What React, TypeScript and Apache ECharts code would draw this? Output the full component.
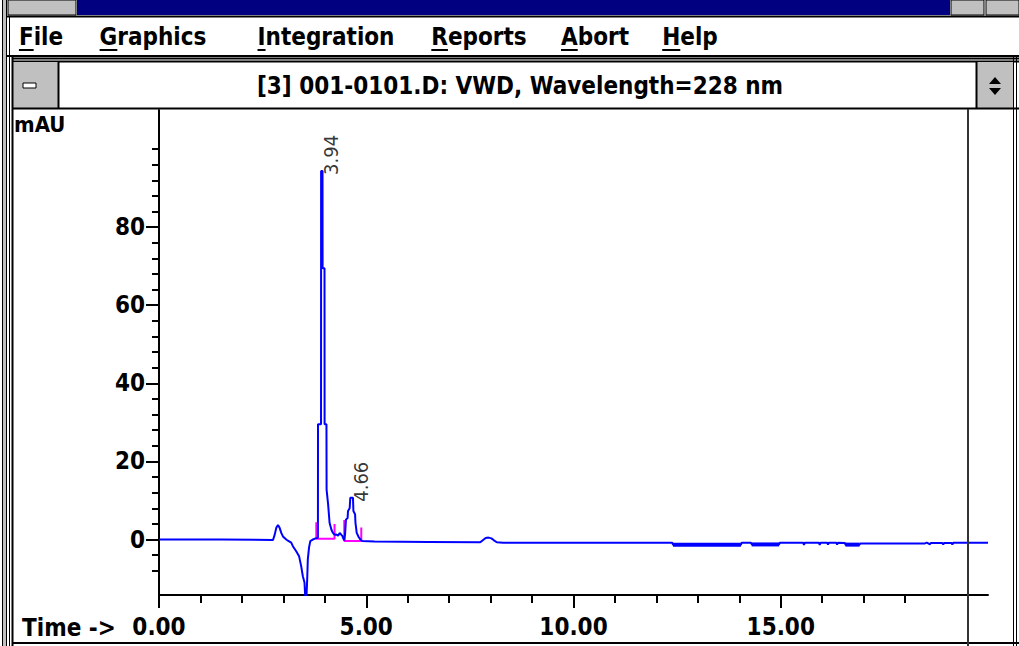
import React, { useEffect, useRef } from "react";
import * as echarts from "echarts";

// ---------------- data (time in min, signal in mAU) ----------------
const leadBaseline: number[][] = [[0, 0], [1.5, 0], [2.75, -0.1]];
const solventBump: number[][] = [
  [2.79, 1.2], [2.83, 3.0], [2.87, 3.7], [2.91, 3.0], [2.95, 1.7], [2.99, 0.8],
  [3.07, 0], [3.11, -0.3], [3.19, -0.8],
];
const negativeDip: number[][] = [
  [3.23, -1.7], [3.31, -3.0], [3.38, -4.3], [3.43, -6.8], [3.47, -9.4], [3.51, -11],
  [3.54, -17], [3.56, -14], [3.575, -10.3], [3.59, -5.1], [3.62, -2], [3.65, -0.4],
  [3.71, 0], [3.78, 0.3],
];
const peak394: number[][] = [
  [3.834, 0.5], [3.836, 29.5], [3.909, 29.5], [3.911, 94.4], [3.945, 94.4],
  [3.947, 69.5], [3.993, 69.5], [3.995, 29.5], [4.04, 29.5], [4.043, 12.8],
  [4.08, 9], [4.115, 4.3], [4.16, 2.5], [4.195, 1.7], [4.24, 1.2], [4.28, 1.3],
  [4.32, 1.0], [4.36, 1.7], [4.4, 1.2], [4.42, 1.0], [4.45, 0.2], [4.47, -0.2],
];
const peak466: number[][] = [
  [4.49, 1.5], [4.51, 5.1], [4.55, 5.5], [4.56, 7.3], [4.6, 8.0], [4.615, 10.7],
  [4.68, 10.7], [4.69, 7.3], [4.73, 6.5], [4.74, 4.3], [4.77, 1.7], [4.82, 0.6],
  [4.86, 0], [4.9, -0.4],
];
const midBaseline: number[][] = [
  [5.2, -0.5], [6.5, -0.6], [7.75, -0.7], [7.82, -0.1], [7.88, 0.4], [7.95, 0.5],
  [8.02, 0.3], [8.08, -0.2], [8.15, -0.7], [8.3, -0.8], [10, -0.8], [12.38, -0.8],
];
const driftTail: number[][] = [
  [12.4, -1.3], [14.04, -1.3], [14.06, -0.8], [14.28, -0.8], [14.3, -1.25], [14.96, -1.25],
  [14.98, -0.8], [15.54, -0.8], [15.56, -1.4], [15.58, -0.8], [15.92, -0.8], [15.94, -1.4],
  [15.96, -0.8], [16.12, -0.8], [16.14, -1.3], [16.16, -0.8], [16.34, -0.8], [16.36, -1.3],
  [16.38, -0.8], [16.55, -0.9], [16.56, -1.3], [16.9, -1.3], [16.92, -1.0], [18.48, -1.0],
  [18.52, -0.8], [18.6, -1.2], [18.62, -0.9], [18.9, -0.9], [18.92, -1.3], [18.94, -0.9],
  [19.12, -0.9], [19.14, -1.3], [19.16, -0.8], [20, -0.8],
];
// dense detector noise drawn as thick stretches: [start, end, level]
const noiseBands: number[][] = [[12.4, 14.04, -1.3], [14.3, 14.96, -1.25], [16.56, 16.9, -1.3]];
const integration394: number[][] = [[3.795, 4.4], [3.795, 0.2], [4.235, 0.2], [4.235, 4.0]];
const integration466: number[][] = [[4.47, 5.0], [4.47, -0.4], [4.88, -0.4], [4.88, 3.1]];
const peakLabels: (number | string)[][] = [[3.94, 94.4, "3.94"], [4.66, 10.7, "4.66"]];

const timeMajor = [0, 5, 10, 15];
const timeMinor = [1, 2, 3, 4, 6, 7, 8, 9, 11, 12, 13, 14, 16, 17, 18];
const mauMajor = [0, 20, 40, 60, 80];
const mauMinor = [-8, -4, 4, 8, 12, 16, 24, 28, 32, 36, 44, 48, 52, 56, 64, 68, 72, 76, 84, 88, 92, 96, 100];

const menuItems = ["File", "Graphics", "Integration", "Reports", "Abort", "Help"];
const windowTitle = "[3] 001-0101.D: VWD, Wavelength=228 nm";

// ---------------- layout ----------------
const W = 1019;
const H = 646;
const FONT = '"DejaVu Sans Condensed", "DejaVu Sans"';
const menuCenters = [41, 153, 326, 479, 595, 690];

function measure(text: string, size: number, weight: string) {
  const c = document.createElement("canvas").getContext("2d");
  if (!c) return text.length * size * 0.55;
  c.font = `${weight} ${size}px ${FONT}`;
  return c.measureText(text).width;
}

function buildChrome() {
  const g: any[] = [];
  const rect = (x: number, y: number, w: number, h: number, fill: string, stroke?: string, z = 0) =>
    g.push({ type: "rect", silent: true, z, shape: { x, y, width: w, height: h }, style: { fill, stroke: stroke || null, lineWidth: 1 } });
  const line = (x1: number, y1: number, x2: number, y2: number, stroke = "#000", lw = 2, z = 0) =>
    g.push({ type: "line", silent: true, z, shape: { x1, y1, x2, y2 }, style: { stroke, lineWidth: lw } });
  const text = (x: number, y: number, t: string, size: number, weight: string, align = "left") =>
    g.push({
      type: "text", silent: true, x, y,
      style: { text: t, fontSize: size, fontWeight: weight, fontFamily: FONT, fill: "#000", align, verticalAlign: "middle", textAlign: align, textVerticalAlign: "middle" },
    });

  // main window caption (partially visible)
  rect(8, 0, 68, 15, "#c0c0c0", "#000");
  rect(77, 0, 873, 15, "#000080");
  rect(951, 0, 33, 15, "#c0c0c0", "#000");
  rect(986, 0, 33, 15, "#c0c0c0", "#000");
  line(7, 16.5, W, 16.5);

  // menu bar
  menuItems.forEach((m, i) => {
    const size = 24;
    text(menuCenters[i], 37, m, size, "bold", "center");
    const wAll = measure(m, size, "bold");
    const wFirst = measure(m[0], size, "bold");
    const x0 = menuCenters[i] - wAll / 2;
    line(x0, 50, x0 + wFirst, 50, "#000", 2);
  });
  line(7, 56, W, 56);

  // child window frame + caption
  line(12, 58.5, W, 58.5);
  line(12, 61.5, W, 61.5);
  rect(13, 62, 45, 46, "#c0c0c0");
  line(58.5, 62, 58.5, 108);
  rect(23, 83, 13, 5, "#fff", "#000");
  rect(977, 62, 36, 46, "#c0c0c0");
  line(976.5, 62, 976.5, 108);
  g.push({ type: "polygon", silent: true, shape: { points: [[989, 84], [1001, 84], [995, 77]] }, style: { fill: "#000" } });
  g.push({ type: "polygon", silent: true, shape: { points: [[989, 88], [1001, 88], [995, 95]] }, style: { fill: "#000" } });
  text(520, 86, windowTitle, 24, "bold", "center");
  line(12, 108.5, W, 108.5);

  // left frame lines
  line(2.5, 0, 2.5, H, "#000", 1);
  rect(3, 0, 3, H, "#c0c0c0");
  line(6.5, 0, 6.5, H, "#000", 1);
  line(9.5, 17, 9.5, H, "#000", 1);
  line(12.5, 57, 12.5, H, "#000", 2);
  // right frame lines
  line(1013.5, 57, 1013.5, H, "#000", 1);
  line(1016.5, 57, 1016.5, H, "#000", 1);
  // divider at right of plot and bottom frame
  line(968, 109, 968, H, "#333", 2, 10);
  line(12, 643, W, 643, "#000", 2);

  // axis titles
  text(14, 124, "mAU", 22, "bold");
  text(22, 628, "Time ->", 24, "bold");
  return g;
}

export default function App() {
  const ref = useRef<HTMLDivElement>(null);
  useEffect(() => {
    if (!ref.current) return;
    const chart = echarts.init(ref.current, undefined, { renderer: "svg" });
    const trace = [...leadBaseline, ...solventBump, ...negativeDip, ...peak394, ...peak466, ...midBaseline, ...driftTail];
    const axisFont = { color: "#000", fontFamily: FONT, fontWeight: "bold", fontSize: 24 };
    const bandSeries = noiseBands.map(([a, b, v], i) => ({
      type: "line", name: "noise " + i, data: [[a, v], [b, v]], xAxisIndex: 0, yAxisIndex: 0,
      symbol: "none", lineStyle: { color: "#0000ff", width: 4 }, z: 3,
    }));
    const option: any = {
      animation: false,
      backgroundColor: "#fff",
      grid: { left: 159, top: 110, width: 829, height: 485, containLabel: false, outerBoundsMode: "none" },
      xAxis: [
        {
          type: "value", min: 0, max: 20, position: "bottom", offset: 0,
          axisLine: { show: true, onZero: false, lineStyle: { color: "#000", width: 2 } },
          axisTick: { show: true, customValues: timeMajor, length: 13, lineStyle: { color: "#000", width: 2 } },
          axisLabel: { show: true, customValues: timeMajor, formatter: (v: number) => v.toFixed(2), margin: 20, ...axisFont },
          splitLine: { show: false },
        },
        {
          type: "value", min: 0, max: 20, position: "bottom", offset: 0,
          axisLine: { show: false, onZero: false },
          axisTick: { show: true, customValues: timeMinor, length: 8, lineStyle: { color: "#000", width: 2 } },
          axisLabel: { show: false },
          splitLine: { show: false },
        },
      ],
      yAxis: [
        {
          type: "value", min: -14.2, max: 110, position: "left", offset: 0,
          axisLine: { show: true, onZero: false, lineStyle: { color: "#000", width: 2 } },
          axisTick: { show: true, customValues: mauMajor, length: 13, lineStyle: { color: "#000", width: 2 } },
          axisLabel: { show: true, customValues: mauMajor, margin: 14, ...axisFont },
          splitLine: { show: false },
        },
        {
          type: "value", min: -14.2, max: 110, position: "left", offset: 0,
          axisLine: { show: false, onZero: false },
          axisTick: { show: true, customValues: mauMinor, length: 7, lineStyle: { color: "#000", width: 2 } },
          axisLabel: { show: false },
          splitLine: { show: false },
        },
      ],
      graphic: buildChrome(),
      series: [
        {
          type: "line", name: "baseline 3.94", data: integration394, xAxisIndex: 0, yAxisIndex: 0,
          symbol: "none", lineStyle: { color: "#ff00ff", width: 2 }, z: 2,
        },
        {
          type: "line", name: "baseline 4.66", data: integration466, xAxisIndex: 0, yAxisIndex: 0,
          symbol: "none", lineStyle: { color: "#ff00ff", width: 2 }, z: 2,
        },
        {
          type: "line", name: "VWD", data: trace, xAxisIndex: 0, yAxisIndex: 0,
          symbol: "none", lineStyle: { color: "#0000ff", width: 2 }, z: 3,
        },
        ...bandSeries,
        {
          type: "scatter", name: "peaks", data: peakLabels, xAxisIndex: 0, yAxisIndex: 0,
          symbolSize: 2, itemStyle: { color: "rgba(0,0,0,0)" }, z: 4,
          label: {
            show: true,
            formatter: (p: any) => p.value[2],
            rotate: 90,
            align: "left",
            verticalAlign: "middle",
            position: [10, 5],
            color: "#000",
            fontFamily: FONT,
            fontSize: 20,
          },
        },
      ],
    };
    chart.setOption(option);
    return () => chart.dispose();
  }, []);
  return <div ref={ref} style={{ position: "fixed", left: 0, top: 0, width: W, height: H, background: "#fff" }} />;
}
